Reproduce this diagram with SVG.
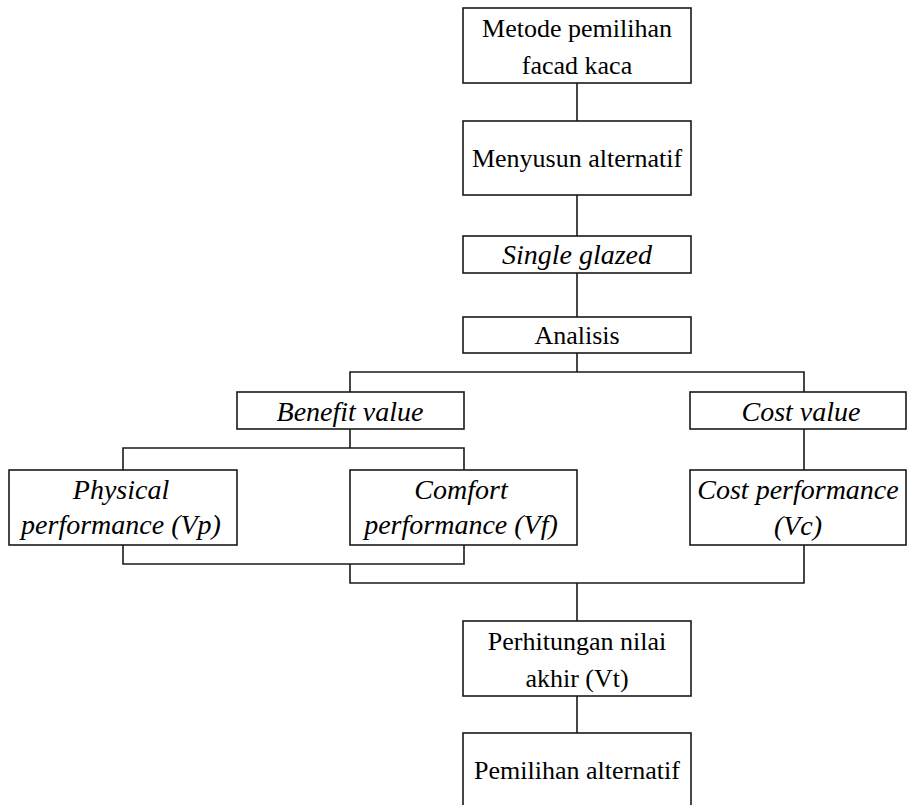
<svg xmlns="http://www.w3.org/2000/svg" width="907" height="805" viewBox="0 0 907 805" font-family="Liberation Serif, DejaVu Serif, serif">
<style>
.b{fill:#fff;stroke:#1a1a1a;stroke-width:1.6}
.c{fill:none;stroke:#1a1a1a;stroke-width:1.6}
.t{font-size:26px;fill:#000;text-anchor:middle}
.i{font-style:italic;font-size:28px}
</style>
<rect width="907" height="805" fill="#fff"/>
<g id="connectors" class="c">
<path d="M577 83V121M577 195V236M577 273V317M577 353V372"/>
<path d="M350 392V372H804V392"/>
<path d="M350 429V448M123 470V448H464V470"/>
<path d="M123 545V564H464V545M350 564V583H804V545"/>
<path d="M804 429V470"/>
<path d="M577 583V621M577 696V733"/>
</g>
<g class="t" font-family="Liberation Serif, DejaVu Serif, serif">
<g id="n1"><rect class="b" x="463" y="8" width="228" height="75"/><text x="577" y="37">Metode pemilihan</text><text x="577" y="74">facad kaca</text></g>
<g id="n2"><rect class="b" x="463" y="121" width="228" height="74"/><text x="577" y="167">Menyusun alternatif</text></g>
<g id="n3"><rect class="b" x="463" y="236" width="228" height="37"/><text class="i" x="577" y="264">Single glazed</text></g>
<g id="n4"><rect class="b" x="463" y="317" width="228" height="36"/><text x="577" y="344">Analisis</text></g>
<g id="n5"><rect class="b" x="237" y="392" width="227" height="37"/><text class="i" x="350" y="421">Benefit value</text></g>
<g id="n6"><rect class="b" x="690" y="392" width="216" height="37"/><text class="i" x="801" y="421">Cost value</text></g>
<g id="n7"><rect class="b" x="9" y="470" width="228" height="75"/><text class="i" x="121" y="499">Physical</text><text class="i" x="121" y="534">performance (Vp)</text></g>
<g id="n8"><rect class="b" x="350" y="470" width="227" height="75"/><text class="i" x="461" y="499">Comfort</text><text class="i" x="461" y="534">performance (Vf)</text></g>
<g id="n9"><rect class="b" x="690" y="470" width="216" height="75"/><text class="i" x="798" y="499">Cost performance</text><text class="i" x="798" y="535">(Vc)</text></g>
<g id="n10"><rect class="b" x="463" y="621" width="228" height="75"/><text x="577" y="650">Perhitungan nilai</text><text x="577" y="687">akhir (Vt)</text></g>
<g id="n11"><rect class="b" x="463" y="733" width="228" height="90"/><text x="577" y="779">Pemilihan alternatif</text></g>
</g>
</svg>
